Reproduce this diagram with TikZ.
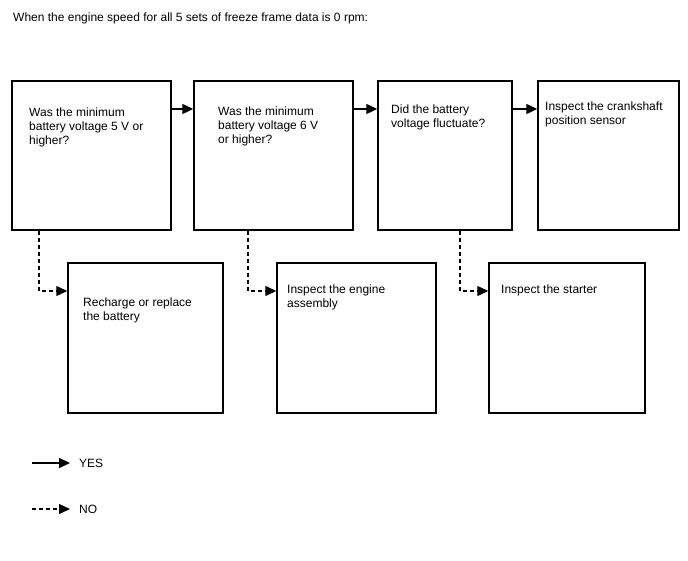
\documentclass[tikz,border=0pt]{standalone}
\usepackage{fontspec}
\setmainfont{Liberation Sans}
\usetikzlibrary{arrows.meta}
\begin{document}
\begin{tikzpicture}[x=1pt,y=-1pt,
  box/.style={draw,line width=1.4pt,rectangle,inner sep=0pt,minimum height=149pt},
  txt/.style={anchor=north west,inner sep=0pt,align=left,font=\fontsize{12}{14}\selectfont},
  yes/.style={line width=1.2pt,-{Triangle[length=11pt,width=10pt]}},
  no/.style={line width=1.2pt,dash pattern=on 4pt off 3pt,-{Triangle[length=11pt,width=10pt]}}]
\useasboundingbox (0,0) rectangle (688,560);
\node[anchor=base west,inner sep=0pt,font=\fontsize{12}{14}\selectfont] (title) at (13,21) {When the engine speed for all 5 sets of freeze frame data is 0 rpm:};
% top row
\node[box,minimum width=159pt] (b1) at (91.5,155.5) {};
\node[box,minimum width=159pt] (b2) at (273.5,155.5) {};
\node[box,minimum width=134pt] (b3) at (445,155.5) {};
\node[box,minimum width=141pt] (b4) at (608.5,155.5) {};
% bottom row
\node[box,minimum width=155pt,minimum height=150pt] (b5) at (145.5,338) {};
\node[box,minimum width=159pt,minimum height=150pt] (b6) at (356.5,338) {};
\node[box,minimum width=156pt,minimum height=150pt] (b7) at (567,338) {};
% texts
\node[txt] (t1) at (29,108) {Was the minimum\\battery voltage 5 V or\\higher?};
\node[txt] (t2) at (218,107) {Was the minimum\\battery voltage 6 V\\or higher?};
\node[txt] (t3) at (391,105) {Did the battery\\voltage fluctuate?};
\node[txt] (t4) at (545,102) {Inspect the crankshaft\\position sensor};
\node[txt] (t5) at (83,298) {Recharge or replace\\the battery};
\node[txt] (t6) at (287,285) {Inspect the engine\\assembly};
\node[txt] (t7) at (501,285) {Inspect the starter};
% yes arrows
\coordinate (ya) at (0,109);
\draw[yes] (b1.east |- ya) -- (b2.west |- ya);
\draw[yes] (b2.east |- ya) -- (b3.west |- ya);
\draw[yes] (b3.east |- ya) -- (b4.west |- ya);
% no arrows
\coordinate (n1) at (39,291);
\coordinate (n2) at (248,291);
\coordinate (n3) at (460,291);
\draw[no] (b1.south -| n1) |- (b5.west |- n1);
\draw[no] (b2.south -| n2) |- (b6.west |- n2);
\draw[no] (b3.south -| n3) |- (b7.west |- n3);
% legend
\node[anchor=west,inner sep=0pt,font=\fontsize{12}{14}\selectfont] (ly) at (79,463) {YES};
\node[anchor=west,inner sep=0pt,font=\fontsize{12}{14}\selectfont] (ln) at (79,509) {NO};
\coordinate (lys) at (32,463);
\coordinate (lns) at (32,509);
\draw[yes,shorten >=9pt] (lys) -- (ly.west);
\draw[no,shorten >=9pt] (lns) -- (ln.west);
\end{tikzpicture}
\end{document}
